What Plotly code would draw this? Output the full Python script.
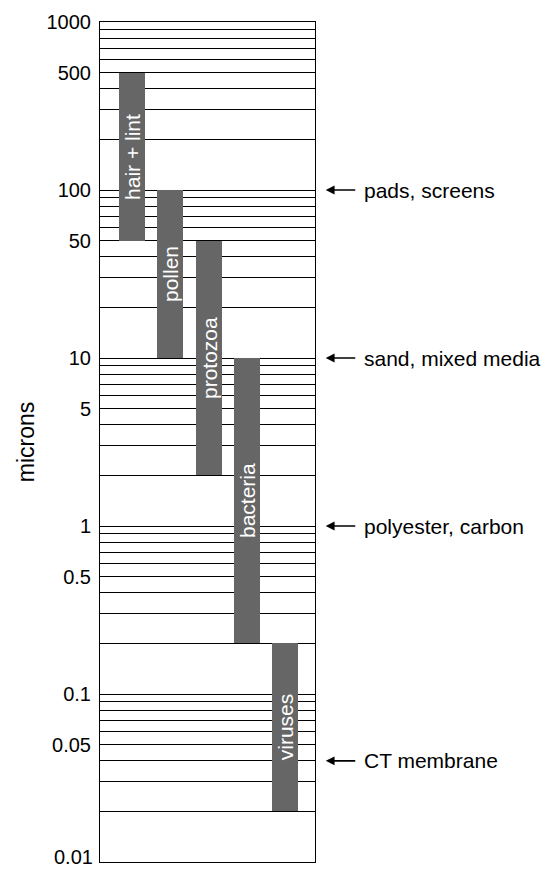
import plotly.graph_objects as go
import numpy as np

# Data
categories = ["hair + lint", "pollen", "protozoa", "bacteria", "viruses"]
size_low = [50, 10, 2, 0.2, 0.02]
size_high = [500, 100, 50, 10, 0.2]

filter_labels = ["pads, screens", "sand, mixed media", "polyester, carbon", "CT membrane"]
filter_sizes = [100, 10, 1, 0.04]

tick_vals = [0.01, 0.05, 0.1, 0.5, 1, 5, 10, 50, 100, 500, 1000]
tick_text = ["0.01", "0.05", "0.1", "0.5", "1", "5", "10", "50", "100", "500", "1000"]

FONT = "Liberation Sans, Arial, Helvetica, sans-serif"

minor_vals = [m * 10.0 ** e for e in range(-2, 3) for m in range(1, 10)] + [1000]
minor_vals = [v for v in minor_vals if not any(abs(v - t) / t < 1e-9 for t in tick_vals)]

xs = list(range(len(categories)))
fig = go.Figure()
fig.add_trace(go.Bar(
    x=xs,
    y=[h - l for h, l in zip(size_high, size_low)],
    base=size_low,
    width=0.68,
    marker=dict(color="#666666", line=dict(width=0)),
    text=categories,
    textposition="inside",
    insidetextanchor="middle",
    textangle=-90,
    constraintext="none",
    textfont=dict(color="white", size=21, family=FONT),
    hoverinfo="skip",
))

annotations = []
for lab, v in zip(filter_labels, filter_sizes):
    annotations.append(dict(
        x=1.05, xref="paper", y=np.log10(v), yref="y",
        ax=31, ay=0, axref="pixel", ayref="pixel",
        text="", showarrow=True, arrowhead=2, arrowsize=1.1, arrowwidth=1.6,
        arrowcolor="black",
    ))
    annotations.append(dict(
        x=1.0, xref="paper", y=np.log10(v), yref="y",
        xshift=47, text=lab, showarrow=False, xanchor="left", yanchor="middle",
        font=dict(size=21, color="black", family=FONT),
    ))

# bottom-most tick label drawn as annotation so it stays inside the page
annotations.append(dict(
    x=0, xref="paper", y=0, yref="paper", xanchor="right", yanchor="bottom",
    xshift=-6, yshift=-7, borderpad=0, showarrow=False,
    text=tick_text[0], font=dict(size=20, color="black", family=FONT),
))

fig.update_layout(
    width=546, height=861,
    margin=dict(l=92, r=239, t=14, b=7, autoexpand=False),
    paper_bgcolor="white", plot_bgcolor="white",
    showlegend=False,
    bargap=0,
    font=dict(family=FONT, color="black"),
    annotations=annotations,
    xaxis=dict(
        range=[-0.84, 4.78], showticklabels=False, showgrid=False, zeroline=False,
        showline=True, mirror=True, linecolor="black", linewidth=1, ticks="",
        automargin=False,
    ),
    yaxis=dict(
        type="log", range=[-2, 3],
        tickvals=tick_vals[1:], ticktext=tick_text[1:], ticks="",
        tickfont=dict(size=20, color="black", family=FONT),
        ticklabelstandoff=4, ticklabeloverflow="allow",
        showgrid=True, gridcolor="black", gridwidth=1,
        showline=True, mirror=True, linecolor="black", linewidth=1,
        zeroline=False, automargin=False,
        minor=dict(tickvals=minor_vals, showgrid=True, gridcolor="black", gridwidth=1, ticks=""),
        title=dict(text="microns", font=dict(size=23, color="black", family=FONT), standoff=5),
    ),
)

fig.write_html("out.html")
